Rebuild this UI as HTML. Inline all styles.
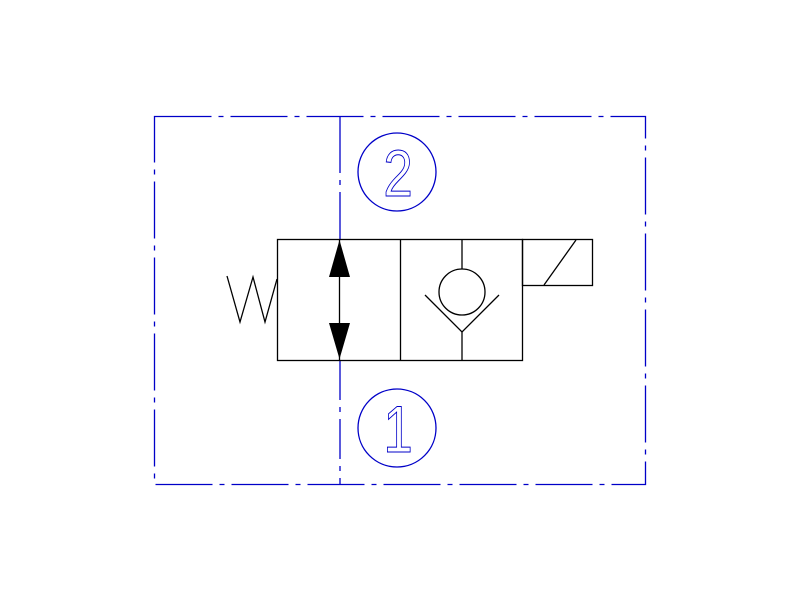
<!DOCTYPE html>
<html><head><style>body{margin:0;background:#fff}svg{display:block}</style></head><body>
<svg width="800" height="600" viewBox="0 0 800 600" xmlns="http://www.w3.org/2000/svg">
<g stroke="#0000c8" stroke-width="1.3" fill="none">
<rect x="154.5" y="116.5" width="491" height="368" stroke-dasharray="57 7 5 7"/>
<line x1="340" y1="116" x2="340" y2="239" stroke-dasharray="57 7 5 7"/>
<line x1="340" y1="360" x2="340" y2="484" stroke-dasharray="40 7 5 7"/>
<circle cx="397" cy="172" r="39"/>
<circle cx="397" cy="428" r="39"/>
</g>
<g font-family="Liberation Sans, sans-serif" font-size="66" fill="none" stroke="#0000c8" stroke-width="1" text-anchor="middle">
<text x="0" y="0" transform="translate(398,196) scale(0.8,1)">2</text>
<text x="0" y="0" transform="translate(398,452) scale(0.8,1)">1</text>
</g>
<g stroke="#000" stroke-width="1.3" fill="none">
<rect x="277.5" y="239.5" width="245" height="121"/>
<line x1="400.5" y1="239" x2="400.5" y2="360"/>
<line x1="339.5" y1="239" x2="339.5" y2="360" stroke="#000"/>
<circle cx="462" cy="292" r="23"/>
<polyline points="425,295 462,332 499,295"/>
<line x1="462" y1="239" x2="462" y2="269"/>
<line x1="462" y1="332" x2="462" y2="360"/>
<rect x="522.5" y="239.5" width="70" height="46"/>
<line x1="544" y1="285" x2="576" y2="240"/>
<polyline points="227,276 240,322 253,277 265,322 277,279"/>
</g>
<g fill="#000">
<polygon points="339.5,240 329,277 350,277"/>
<polygon points="339.5,359 329,323 350,323"/>
</g>
</svg>
</body></html>
